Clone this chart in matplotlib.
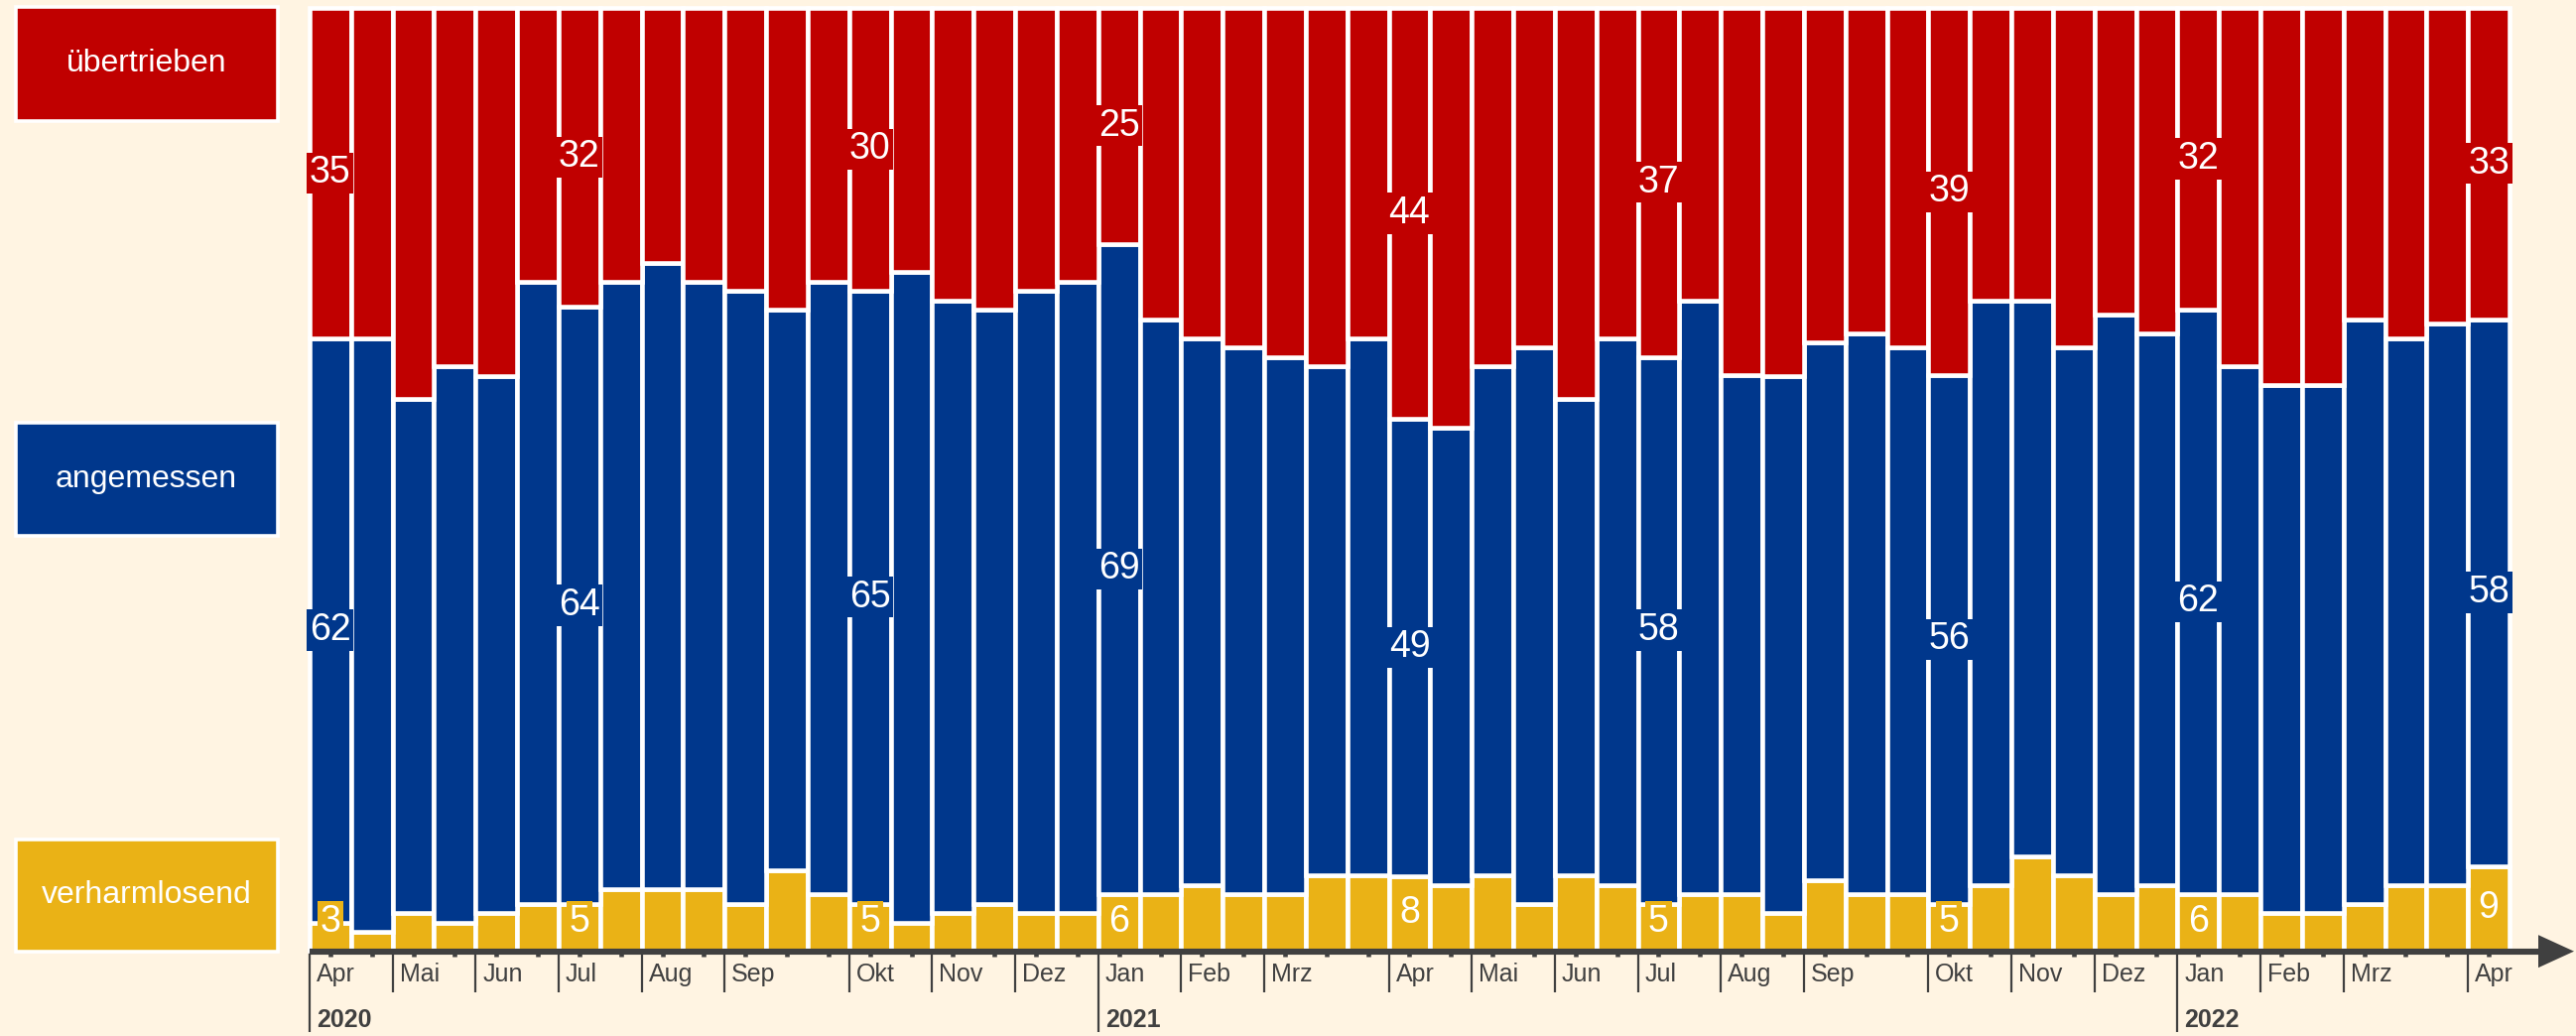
import matplotlib
matplotlib.use('Agg')
import matplotlib.pyplot as plt
import matplotlib.transforms as mtrans
from matplotlib.patches import Rectangle, Polygon
from matplotlib.lines import Line2D
import numpy as np

plt.rcParams['font.family'] = ['Liberation Sans', 'DejaVu Sans']

# ---------------- data ----------------
categories = ['übertrieben', 'angemessen', 'verharmlosend']

uebertrieben = [35, 35, 41.5, 38, 39, 29, 32, 29, 27, 29, 30, 32, 29, 30, 28, 31, 32, 30, 29,
                25, 33, 35, 36, 37, 38, 35, 44, 44.5, 38, 36, 41.5, 35, 37, 31, 39, 39, 35.5,
                34.5, 36, 39, 31, 31, 36, 32.5, 34.5, 32, 38, 40, 40, 33, 35, 33.5, 33]
angemessen = [62, 63, 54.5, 59, 57, 66, 64, 64.5, 66.5, 64.5, 65, 59.5, 65, 65, 69, 65, 63, 66, 67,
              69, 61, 58, 58, 57, 54, 57, 49, 48.5, 54, 59, 50.5, 58, 58, 63, 55, 57, 57,
              59.5, 58, 56, 62, 59, 56, 61.5, 58.5, 62, 56, 56, 56, 62, 58, 59.5, 58]
verharmlosend = [3, 2, 4, 3, 4, 5, 5, 6.5, 6.5, 6.5, 5, 8.5, 6, 5, 3, 4, 5, 4, 4,
                 6, 6, 7, 6, 6, 8, 8, 8, 7, 8, 5, 8, 7, 5, 6, 6, 4, 7.5,
                 6, 6, 5, 7, 10, 8, 6, 7, 6, 6, 4, 4, 5, 7, 7, 9]

labeled_idx = [0, 6, 13, 19, 26, 32, 39, 45, 52]

month_idx = [0, 2, 4, 6, 8, 10, 13, 15, 17, 19, 21, 23, 26, 28, 30, 32, 34, 36, 39, 41, 43,
             45, 47, 49, 52]
month_labels = ['Apr', 'Mai', 'Jun', 'Jul', 'Aug', 'Sep', 'Okt', 'Nov', 'Dez',
                'Jan', 'Feb', 'Mrz', 'Apr', 'Mai', 'Jun', 'Jul', 'Aug', 'Sep', 'Okt', 'Nov', 'Dez',
                'Jan', 'Feb', 'Mrz', 'Apr']
year_idx = [0, 19, 45]
year_labels = ['2020', '2021', '2022']

# ---------------- style ----------------
BG = '#FFF4E2'
RED = '#C00000'
BLUE = '#00378C'
GOLD = '#EAB216'
DARK = '#404040'
colors = [RED, BLUE, GOLD]

W, H = 2596, 1044
fig = plt.figure(figsize=(W / 100, H / 100), dpi=100)
fig.patch.set_facecolor(BG)

bar_px = 41.83
left_px, top_px, base_px = 312, 8, 958
ax = fig.add_axes([left_px / W, 1 - base_px / H, (W - left_px) / W, (base_px - top_px) / H])
ax.set_facecolor('none')
xmax = -0.5 + (W - left_px) / bar_px
ax.set_xlim(-0.5, xmax)
ax.set_ylim(0, 100)
for s in ax.spines.values():
    s.set_visible(False)

r = np.array(uebertrieben, float)
b = np.array(angemessen, float)
g = np.array(verharmlosend, float)
tot = r + b + g
rn, bn, gn = r / tot * 100, b / tot * 100, g / tot * 100
x = np.arange(len(r))

lw = 3.3
ax.bar(x, gn, width=1.0, color=GOLD, edgecolor='white', linewidth=lw, clip_on=False, zorder=2)
ax.bar(x, bn, bottom=gn, width=1.0, color=BLUE, edgecolor='white', linewidth=lw, clip_on=False, zorder=2)
ax.bar(x, rn, bottom=gn + bn, width=1.0, color=RED, edgecolor='white', linewidth=lw, clip_on=False, zorder=2)

# data labels
for i in labeled_idx:
    items = [(gn[i] + bn[i] + rn[i] / 2, uebertrieben[i], RED),
             (gn[i] + bn[i] / 2, angemessen[i], BLUE),
             (max(gn[i] / 2, 3.1), verharmlosend[i], GOLD)]
    for yy, val, c in items:
        ax.text(i, yy, f'{val:g}', ha='center', va='center', color='white', fontsize=27,
                zorder=6, clip_on=False,
                bbox=dict(boxstyle='square,pad=0.07', fc=c, ec='none'))

# axis ticks
ax.set_xticks([i - 0.5 for i in month_idx])
ax.set_xticklabels([''] * len(month_idx))
ax.set_xticks(x, minor=True)
ax.tick_params(axis='x', which='major', direction='out', length=30, width=1.6, color=DARK)
ax.tick_params(axis='x', which='minor', direction='out', length=4, width=3.3, color=DARK)
ax.tick_params(axis='y', left=False, labelleft=False)
for tick, idx in zip(ax.xaxis.get_major_ticks(), month_idx):
    if idx in year_idx:
        tick.tick1line.set_markersize(59)

# axis line with arrow
y_line = -0.07
tip = -0.5 + (2594 - left_px) / bar_px
head_len = 36 / bar_px
head_half = 16.5 / ((base_px - top_px) / 100)
ax.add_line(Line2D([-0.5, tip - head_len + 0.05], [y_line, y_line], color=DARK, lw=4.4,
                   solid_capstyle='butt', clip_on=False, zorder=4))
ax.add_patch(Polygon([[tip, y_line], [tip - head_len, y_line + head_half],
                      [tip - head_len, y_line - head_half]], closed=True, fc=DARK, ec='none',
                     clip_on=False, zorder=4))

# month and year labels
blend = mtrans.blended_transform_factory(ax.transData, fig.transFigure)
month_y = 1 - 982 / H
year_y = 1 - 1028 / H
off = 7 / bar_px
for idx, lab in zip(month_idx, month_labels):
    ax.text(idx - 0.5 + off, month_y, lab, transform=blend,
            ha='left', va='center', fontsize=18, color=DARK)
for idx, lab in zip(year_idx, year_labels):
    ax.text(idx - 0.5 + off, year_y, lab, transform=blend, ha='left', va='center',
            fontsize=18, fontweight='bold', color=DARK)

# legend boxes
boxes = [(7.5, 121.5), (425.5, 539.5), (845.5, 958.5)]
for (t, bt), lab, c in zip(boxes, categories, colors):
    x0, x1 = 15.5, 279.5
    fig.add_artist(Rectangle((x0 / W, 1 - bt / H), (x1 - x0) / W, (bt - t) / H,
                             transform=fig.transFigure, fc=c, ec='white', lw=2.6))
    fig.text((x0 + x1) / 2 / W, 1 - (t + bt) / 2 / H, lab, ha='center', va='center',
             color='white', fontsize=23)

fig.savefig('out.png', dpi=100, facecolor=BG)
